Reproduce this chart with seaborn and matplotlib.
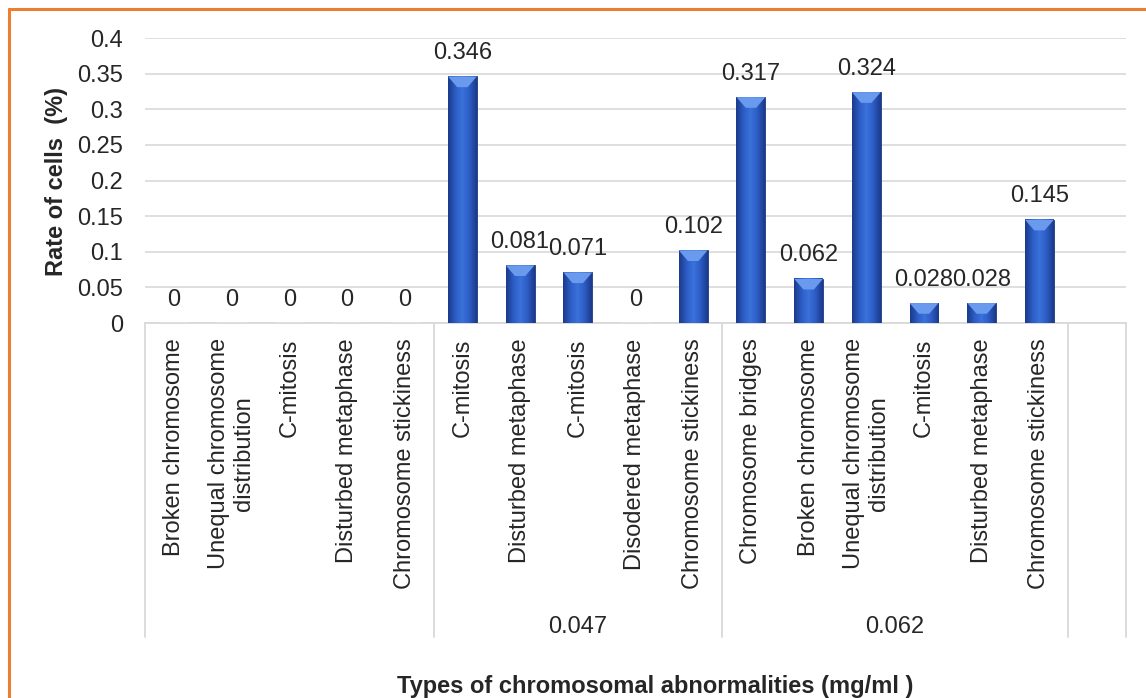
#Importamos librerias
import numpy as np
import pandas as pd
import matplotlib
matplotlib.use("Agg")
import matplotlib.pyplot as plt
from matplotlib.colors import LinearSegmentedColormap
from matplotlib.lines import Line2D
from matplotlib.patches import Polygon
import seaborn as sns

#Datos del grafico
abnormalities = [
    "Broken chromosome", "Unequal chromosome\ndistribution", "C-mitosis",
    "Disturbed metaphase", "Chromosome stickiness",
    "C-mitosis", "Disturbed metaphase", "C-mitosis",
    "Disodered metaphase", "Chromosome stickiness",
    "Chromosome bridges", "Broken chromosome", "Unequal chromosome\ndistribution",
    "C-mitosis", "Disturbed metaphase", "Chromosome stickiness",
    "",
]
rates = [0, 0, 0, 0, 0,
         0.346, 0.081, 0.071, 0, 0.102,
         0.317, 0.062, 0.324, 0.028, 0.028, 0.145]
concentrations = ["", "0.047", "0.062", ""]
group_sizes = [5, 5, 6, 1]
y_ticks = [0, 0.05, 0.1, 0.15, 0.2, 0.25, 0.3, 0.35, 0.4]

sns.set_style("white")
plt.rcParams["font.family"] = ["Liberation Sans", "DejaVu Sans"]
FS = 17

data_df = pd.DataFrame({"slot": range(len(rates)), "rate": rates})

fig = plt.figure(figsize=(11.46, 6.98), dpi=100)
ax = fig.add_axes([145 / 1146, 1 - 323 / 698, 981 / 1146, 285 / 698])

sns.barplot(data=data_df, x="slot", y="rate", order=list(range(len(abnormalities))),
            width=0.5, color="#2E5FC7", errorbar=None, ax=ax, zorder=3)

#Degradado y bisel de las barras
cmap = LinearSegmentedColormap.from_list(
    "bar", ["#1B3A8A", "#2C5CC4", "#3B72DC", "#2C5CC4", "#1B3A8A"])
grad = np.linspace(0, 1, 64).reshape(1, -1)
bevel = 0.015
for bar in ax.containers[0]:
    x0, w, h = bar.get_x(), bar.get_width(), bar.get_height()
    if not h > 0:
        continue
    bar.set_edgecolor("#1A3680")
    bar.set_linewidth(0.6)
    ax.imshow(grad, extent=[x0, x0 + w, 0, h], aspect="auto", cmap=cmap,
              clip_path=bar, zorder=3.5, interpolation="bilinear")
    d = min(bevel, h * 0.6)
    ax.add_patch(Polygon([[x0, h], [x0 + w, h], [x0 + w * 0.68, h - d], [x0 + w * 0.32, h - d]],
                         closed=True, facecolor="#6A9AEE", edgecolor="none", zorder=4))

ax.bar_label(ax.containers[0], labels=["%g" % v for v in rates], padding=9, fontsize=FS)

#Ejes
ax.set_xlim(-0.5, len(abnormalities) - 0.5)
ax.set_ylim(0, 0.4)
ax.set_yticks(y_ticks)
ax.set_yticklabels(["%g" % t for t in y_ticks], fontsize=FS)
ax.set_xticks(range(len(abnormalities)))
ax.set_xticklabels(abnormalities, rotation=90, fontsize=FS, va="top", ha="center",
                   multialignment="center")
ax.tick_params(axis="x", length=0, pad=11)
ax.tick_params(axis="y", length=0, pad=16)
ax.yaxis.grid(True, color="#D9D9D9", linewidth=1.2, zorder=0)
ax.set_axisbelow(True)
for s in ["left", "right", "top"]:
    ax.spines[s].set_visible(False)
ax.spines["bottom"].set_color("#D9D9D9")
ax.spines["bottom"].set_linewidth(1.3)
ax.set_xlabel("")
ax.set_ylabel("")

#Etiquetas de grupo (concentraciones) y separadores
trans = ax.get_xaxis_transform()
start = -0.5
ax.plot([start, start], [0, -1.102], color="#D9D9D9", lw=1.3, transform=trans, clip_on=False)
for name, n in zip(concentrations, group_sizes):
    end = start + n
    ax.plot([end, end], [0, -1.102], color="#D9D9D9", lw=1.3, transform=trans, clip_on=False)
    ax.text((start + end) / 2, -1.067, name, transform=trans, ha="center", va="center", fontsize=FS)
    start = end

fig.text(56 / 1146, 1 - 181 / 698, "Rate of cells  (%)", rotation=90, ha="center", va="center",
         fontsize=FS, fontweight="bold")
fig.text(655 / 1146, 1 - 687 / 698, "Types of chromosomal abnormalities (mg/ml )", ha="center",
         va="center", fontsize=FS, fontweight="bold")

#Marco naranja
fig.add_artist(Line2D([8.5 / 1146, 1], [1 - 9 / 698, 1 - 9 / 698], color="#ED7D31", lw=2.2,
                      transform=fig.transFigure))
fig.add_artist(Line2D([8.5 / 1146, 8.5 / 1146], [0, 1 - 9 / 698], color="#ED7D31", lw=2.2,
                      transform=fig.transFigure))

fig.savefig("out.png", dpi=100)
